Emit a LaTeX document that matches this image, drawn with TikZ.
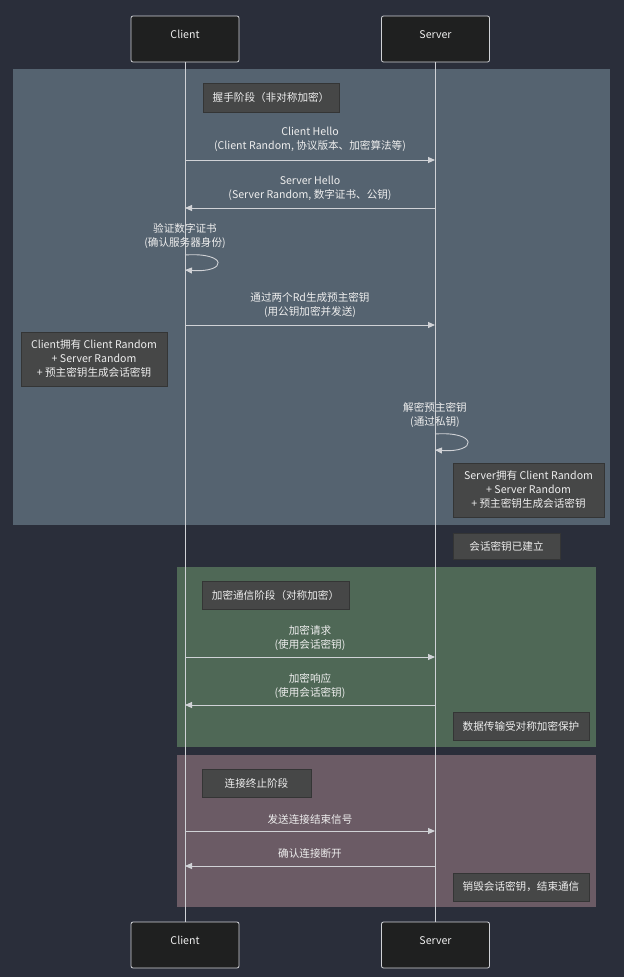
\documentclass[tikz,border=0pt]{standalone}
\usepackage{fontspec}
\setmainfont{Noto Sans CJK SC}
\usepackage{xcolor}
\usepackage{tikz}
\usetikzlibrary{arrows.meta,calc,positioning}
\definecolor{canvasbg}{RGB}{42, 46, 58}
\definecolor{handshakebg}{RGB}{85, 99, 112}
\definecolor{securebg}{RGB}{79, 104, 86}
\definecolor{closebg}{RGB}{107, 91, 101}
\definecolor{notefill}{RGB}{70, 71, 71}
\definecolor{noteline}{RGB}{52, 53, 53}
\definecolor{actorfill}{RGB}{31, 32, 32}
\definecolor{lineclr}{RGB}{208, 210, 214}
\definecolor{textclr}{RGB}{238, 238, 238}

\begin{document}
\begin{tikzpicture}[x=1pt, y=-1pt,
    every node/.style={font=\fontsize{10.6}{14}\selectfont, text=textclr},
    actor/.style={draw=lineclr, fill=actorfill, rounded corners=2pt, minimum width=108pt, minimum height=46pt, line width=0.8pt},
    note/.style={draw=noteline, fill=notefill, align=center, inner sep=0pt, line width=0.8pt},
    msg/.style={draw=lineclr, line width=0.9pt, -{Triangle[length=7pt,width=6pt]}},
    life/.style={draw=lineclr, line width=0.9pt},
    msgtext/.style={align=center, inner sep=0pt}]
    \useasboundingbox (0,0) rectangle (624,977);
    \fill[canvasbg] (0,0) rectangle (624,977);

    % Phase backgrounds
    \fill[handshakebg] (13,69) rectangle (610,525);
    \fill[securebg] (177,567) rectangle (596,747);
    \fill[closebg] (177,755) rectangle (596,907);

    % Actors
    \node[actor] (clientTop) at (185,39) {\raisebox{3pt}[7pt][2pt]{Client}};
    \node[actor] (serverTop) at (435.5,39) {\raisebox{3pt}[7pt][2pt]{Server}};
    \node[actor] (clientBot) at (185,945) {\raisebox{3pt}[7pt][2pt]{Client}};
    \node[actor] (serverBot) at (435.5,945) {\raisebox{3pt}[7pt][2pt]{Server}};

    % Lifelines
    \draw[life] (clientTop.south) -- (clientBot.north);
    \draw[life] (serverTop.south) -- (serverBot.north);

    % Handshake phase
    \node[note, minimum width=136pt, minimum height=29pt] (phaseA) at (271,97.5) {握手阶段（非对称加密）};

    \coordinate (c1) at (185,160); \coordinate (s1) at (435,160);
    \node[msgtext] (m1) at (310,139.5) {Client Hello\\(Client Random, 协议版本、加密算法等)};
    \draw[msg] (c1) -- (s1);

    \coordinate (c2) at (185,208); \coordinate (s2) at (435,208);
    \node[msgtext] (m2) at (310,188.5) {Server Hello\\(Server Random, 数字证书、公钥)};
    \draw[msg] (s2) -- (c2);

    \coordinate (c3a) at (185,255); \coordinate (c3b) at (185,270);
    \node[msgtext] (m3) at (185,236) {验证数字证书\\(确认服务器身份)};
    \draw[msg] (c3a) .. controls (228,252) and (228,273) .. (c3b);

    \coordinate (c4) at (185,325); \coordinate (s4) at (435,325);
    \node[msgtext] (m4) at (310,305.5) {通过两个Rd生成预主密钥\\(用公钥加密并发送)};
    \draw[msg] (c4) -- (s4);

    \node[note, minimum width=146pt, minimum height=54pt] (noteC) at (94,359) {Client拥有 Client Random\\+ Server Random\\+ 预主密钥生成会话密钥};

    \coordinate (s5a) at (435,434); \coordinate (s5b) at (435,450);
    \node[msgtext] (m5) at (435,415.5) {解密预主密钥\\(通过私钥)};
    \draw[msg] (s5a) .. controls (478,431) and (478,453) .. (s5b);

    \node[note, minimum width=151pt, minimum height=54pt] (noteS) at (528.5,490) {Server拥有 Client Random\\+ Server Random\\+ 预主密钥生成会话密钥};

    \node[note, minimum width=107pt, minimum height=26pt] (noteKey) at (506.5,546) {会话密钥已建立};

    % Secure communication phase
    \node[note, minimum width=147pt, minimum height=28pt] (phaseB) at (275.5,595) {加密通信阶段（对称加密）};

    \coordinate (c6) at (185,657); \coordinate (s6) at (435,657);
    \node[msgtext] (m6) at (310,638) {加密请求\\(使用会话密钥)};
    \draw[msg] (c6) -- (s6);

    \coordinate (c7) at (185,705); \coordinate (s7) at (435,705);
    \node[msgtext] (m7) at (310,686) {加密响应\\(使用会话密钥)};
    \draw[msg] (s7) -- (c7);

    \node[note, minimum width=136pt, minimum height=28pt] (noteData) at (521,726) {数据传输受对称加密保护};

    % Termination phase
    \node[note, minimum width=109pt, minimum height=28pt] (phaseC) at (256.5,783) {连接终止阶段};

    \coordinate (c8) at (185,831); \coordinate (s8) at (435,831);
    \node[msgtext] (m8) at (310,819) {发送连接结束信号};
    \draw[msg] (c8) -- (s8);

    \coordinate (c9) at (185,866); \coordinate (s9) at (435,866);
    \node[msgtext] (m9) at (310,853) {确认连接断开};
    \draw[msg] (s9) -- (c9);

    \node[note, minimum width=136pt, minimum height=28pt] (noteEnd) at (521,887) {销毁会话密钥，结束通信};
\end{tikzpicture}
\end{document}
